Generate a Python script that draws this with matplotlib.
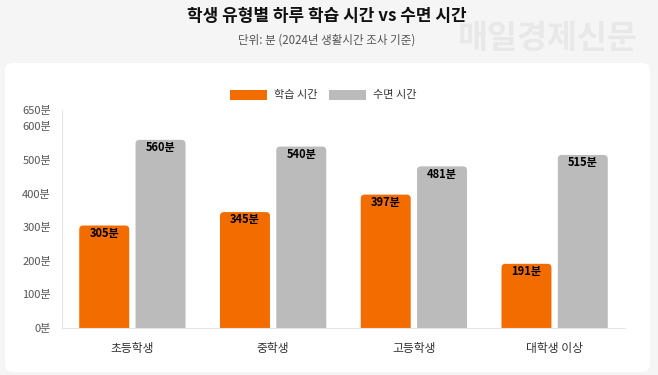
import matplotlib
matplotlib.use("Agg")
import matplotlib.pyplot as plt
import numpy as np
from matplotlib.patches import FancyBboxPatch

plt.rcParams['font.family'] = ['Noto Sans CJK KR', 'DejaVu Sans']

# data
categories = ["초등학생", "중학생", "고등학생", "대학생 이상"]
study_minutes = [305, 345, 397, 191]
sleep_minutes = [560, 540, 481, 515]
series_names = ["학습 시간", "수면 시간"]
y_ticks = [0, 100, 200, 300, 400, 500, 600, 650]
y_tick_labels = [f"{v}분" for v in y_ticks]

ORANGE = "#F36C00"
GRAY = "#BBBBBB"

fig = plt.figure(figsize=(6.58, 3.75), dpi=100)
fig.patch.set_facecolor("#F5F5F5")

# white card behind the chart
card = FancyBboxPatch((5 / 658, 3 / 375), 645 / 658, 309 / 375,
                      boxstyle="round,pad=0,rounding_size=0.012",
                      mutation_aspect=658 / 375,
                      transform=fig.transFigure, facecolor="white",
                      edgecolor="none", zorder=-10)
fig.patches.append(card)

fig.text(0.496, 0.957, "학생 유형별 하루 학습 시간 vs 수면 시간",
         ha="center", va="center", fontsize=12.2, fontweight="bold", color="#111111")
fig.text(0.497, 0.893, "단위: 분 (2024년 생활시간 조사 기준)",
         ha="center", va="center", fontsize=8.3, color="#555555")
fig.text(0.832, 0.898, "매일경제신문", ha="center", va="center",
         fontsize=23.5, fontweight="bold", color="#E8E8E8")

ax = fig.add_axes([62 / 658, 47 / 375, 563 / 658, 218.4 / 375])
ax.set_facecolor("none")

x = np.arange(len(categories))
w = 0.355
off = 0.2
b1 = ax.bar(x - off, study_minutes, w, color=ORANGE, label=series_names[0])
b2 = ax.bar(x + off, sleep_minutes, w, color=GRAY, label=series_names[1])

ax.set_xlim(-0.5, 3.5)
ax.set_ylim(0, 650)

# rounded tops: swap each bar for a rounded patch
aspect = (650 / 218.4) / (4 / 563)
for bars in (b1, b2):
    for r in bars:
        r.set_visible(False)
        p = FancyBboxPatch((r.get_x(), -30), r.get_width(), r.get_height() + 30,
                           boxstyle="round,pad=0,rounding_size=0.028",
                           mutation_aspect=aspect,
                           facecolor=r.get_facecolor(), edgecolor="none",
                           zorder=2, clip_on=True)
        ax.add_patch(p)
        p.set_clip_path(ax.patch)
        ax.annotate(f"{int(r.get_height())}분",
                    (r.get_x() + r.get_width() / 2, r.get_height()),
                    xytext=(0, -1), textcoords="offset points",
                    ha="center", va="top", fontsize=8, fontweight="bold",
                    color="black", zorder=3)

ax.set_yticks(y_ticks)
ax.set_yticklabels(y_tick_labels)
ax.set_xticks(x)
ax.set_xticklabels(categories)
ax.tick_params(axis="y", length=0, pad=8, labelsize=8, labelcolor="#555555")
ax.tick_params(axis="x", length=0, pad=10, labelsize=8.5, labelcolor="#333333")

for s in ["top", "right"]:
    ax.spines[s].set_visible(False)
ax.spines["left"].set_color("#E6E6E6")
ax.spines["bottom"].set_color("#E6E6E6")

ax.legend(handles=[b1, b2], labels=series_names, loc="center",
          bbox_to_anchor=(323 / 658, 280 / 375), bbox_transform=fig.transFigure,
          ncol=2, frameon=False, fontsize=8, handlelength=3.4, handleheight=1.0,
          handletextpad=0.6, columnspacing=1.0, labelcolor="#333333")
for h in ax.get_legend().legend_handles:
    h.set_visible(True)

fig.savefig("out.png", dpi=100, facecolor=fig.get_facecolor())
